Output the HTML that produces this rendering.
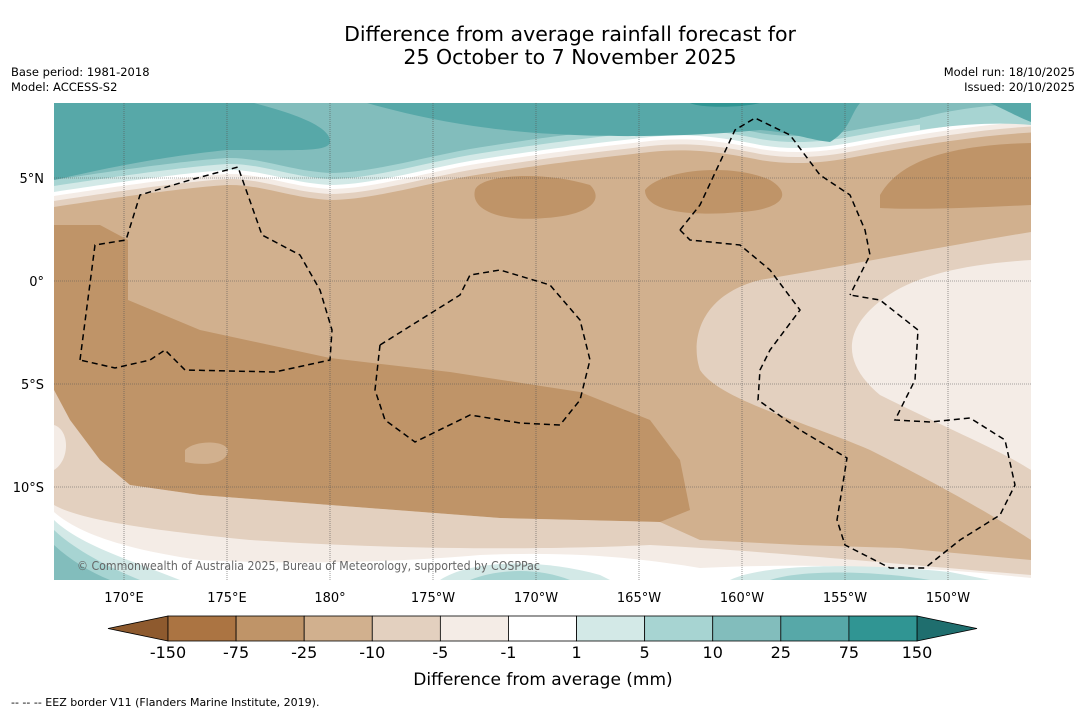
<!DOCTYPE html>
<html><head><meta charset="utf-8"><style>
html,body{margin:0;padding:0;background:#fff;width:1085px;height:713px;overflow:hidden}
svg{display:block;font-family:"DejaVu Sans","Liberation Sans",sans-serif}
</style></head><body>
<svg id="c" width="1085" height="713" viewBox="0 0 1085 713">
<text x="570" y="41" font-size="20.5" text-anchor="middle">Difference from average rainfall forecast for</text>
<text x="570" y="64" font-size="20.5" text-anchor="middle">25 October to 7 November 2025</text>
<text x="11" y="76" font-size="11.5">Base period: 1981-2018</text>
<text x="11" y="91" font-size="11.5">Model: ACCESS-S2</text>
<text x="1075" y="76" font-size="11.5" text-anchor="end">Model run: 18/10/2025</text>
<text x="1075" y="91" font-size="11.5" text-anchor="end">Issued: 20/10/2025</text>
<defs>
<clipPath id="mc"><rect x="54" y="103" width="977" height="477"/></clipPath>
<path id="nb" d="M54,207 C100,200 180,188 227,185 C260,184 290,198 330,200 C370,200 420,185 470,176 C520,168 560,162 650,152 C690,148 720,152 760,160 C790,165 820,164 860,156 C920,145 980,135 1040,132 L1040,0 L40,0Z"/>
</defs>
<g clip-path="url(#mc)">
<rect x="54" y="103" width="977" height="477" fill="#d1b08e"/>
<!-- north bands -->
<use href="#nb" fill="#e3d0bf"/>
<use href="#nb" transform="translate(0,-6)" fill="#f4ece6"/>
<use href="#nb" transform="translate(0,-11)" fill="#ffffff"/>
<use href="#nb" transform="translate(0,-15)" fill="#d3e9e7"/>
<use href="#nb" transform="translate(0,-21)" fill="#a7d4d2"/>
<use href="#nb" transform="translate(0,-27)" fill="#82bdbc"/>
<path d="M54,103 L254,103 C300,115 332,128 330,143 C325,152 300,150 227,150 C150,158 100,170 54,180Z" fill="#57a8a8"/>
<path d="M367,103 C420,118 480,130 554,134 C620,138 700,136 760,130 C790,132 810,140 830,142 C850,130 850,115 860,103Z" fill="#57a8a8"/>
<path d="M690,103 C700,108 740,108 760,103Z" fill="#309593"/>
<path d="M920,118 C950,110 990,104 1031,104 L1031,125 C1000,122 960,124 920,130Z" fill="#a7d4d2"/>
<path d="M990,103 C1010,112 1020,118 1031,122 L1031,103Z" fill="#57a8a8"/>
<!-- dark brown regions -->
<path d="M475,190 C480,175 540,170 590,185 C605,200 590,215 545,218 C500,222 470,210 475,190Z" fill="#bf9468"/>
<path d="M645,190 C660,170 730,162 770,180 C795,195 780,210 740,212 C700,216 645,214 645,190Z" fill="#bf9468"/>
<path d="M880,195 C900,160 950,145 1031,143 L1031,205 C970,208 920,210 880,208Z" fill="#bf9468"/>
<path d="M54,225 L100,225 L128,240 L128,300 L200,330 L330,358 L450,372 L580,392 L650,420 L680,460 L690,510 L660,522 L500,518 L330,505 L200,495 L130,485 L100,460 L70,420 L54,390Z" fill="#bf9468"/>
<path d="M185,450 C195,440 225,440 228,450 C228,462 210,467 185,462Z" fill="#d1b08e"/>
<!-- light east -->
<path d="M1031,232 C950,245 850,265 760,280 C700,295 690,340 700,370 C720,400 800,420 870,450 C950,490 1000,520 1031,540 Z" fill="#e3d0bf"/>
<path d="M1031,260 C950,265 900,280 870,310 C840,340 850,370 880,395 C950,430 1000,450 1031,470Z" fill="#f4ece6"/>
<!-- southern bands -->
<path d="M54,390 L70,420 L100,460 L130,485 L200,495 L330,505 L500,518 L660,522 L700,540 L800,545 L900,548 L1031,560 L1031,580 L54,580Z" fill="#e3d0bf"/>
<path d="M54,505 C80,520 150,530 250,540 C400,550 550,550 650,545 C750,550 850,560 1031,575 L1031,580 L54,580Z" fill="#f4ece6"/>
<path d="M54,425 C70,430 70,460 54,470Z" fill="#f4ece6"/>
<path d="M54,512 C80,535 130,550 200,560 C300,565 400,562 480,555 C560,552 620,555 700,568 C760,565 820,565 900,568 C960,570 1000,575 1031,578 L1031,580 L54,580Z" fill="#ffffff"/>
<path d="M54,520 C80,545 130,560 180,580 L54,580Z" fill="#d3e9e7"/>
<path d="M54,530 C75,550 110,568 140,580 L54,580Z" fill="#a7d4d2"/>
<path d="M54,545 C70,560 90,572 110,580 L54,580Z" fill="#82bdbc"/>
<path d="M440,580 C470,560 540,558 600,575 L610,580Z" fill="#d3e9e7"/>
<path d="M470,580 C500,568 540,568 570,580Z" fill="#a7d4d2"/>
<path d="M730,580 C760,565 850,562 950,572 L990,580Z" fill="#d3e9e7"/>
<path d="M770,580 C800,570 870,570 930,580Z" fill="#a7d4d2"/>
<!-- grid -->
<g id="grid" stroke="#555" stroke-width="0.6" stroke-dasharray="1,1"></g>
<!-- EEZ dashed borders -->
<g fill="none" stroke="#000" stroke-width="1.5" stroke-dasharray="6,4">
<polyline points="80,360 95,245 126,240 140,195 190,180 238,167 262,235 300,255 320,290 332,330 330,360 275,372 185,370 165,350 150,360 115,368 80,360"/>
<polyline points="380,345 460,295 470,275 500,270 550,285 580,320 590,360 580,400 560,425 520,423 470,415 415,442 385,420 375,390 380,345"/>
<polyline points="680,230 700,205 735,130 755,118 790,135 820,175 850,195 865,230 870,255 850,295"/>
<polyline points="680,230 690,240 740,245 770,270 800,310 770,350 760,370 758,400 800,430 847,458 837,520 845,545 890,568 925,568 960,540 1000,515 1015,485 1005,440 970,418 930,422 895,420 915,380 918,330 880,300 850,295"/>
</g>
<text x="77" y="570" font-size="12.5" fill="#666" transform="translate(77,0) scale(0.88,1) translate(-77,0)">© Commonwealth of Australia 2025, Bureau of Meteorology, supported by COSPPac</text>
</g>
<g id="axlabels" font-size="13"></g>
<g id="cbar"></g>
<text x="543" y="685" font-size="17" text-anchor="middle">Difference from average (mm)</text>
<text x="11" y="706" font-size="11">--  --  -- EEZ border V11 (Flanders Marine Institute, 2019).</text>
</svg>
<script>
const lonTicks=[170,175,180,-175,-170,-165,-160,-155,-150];
const lonLabels=["170°E","175°E","180°","175°W","170°W","165°W","160°W","155°W","150°W"];
const latTicks=[5,0,-5,-10];
const latLabels=["5°N","0°","5°S","10°S"];
const levels=["-150","-75","-25","-10","-5","-1","1","5","10","25","75","150"];
const colors=["#ab7442","#bf9468","#d1b08e","#e3d0bf","#f4ece6","#ffffff","#d3e9e7","#a7d4d2","#82bdbc","#57a8a8","#309593"];
const NS="http://www.w3.org/2000/svg";
const xLon=l=>{const e=l<0?360+l:l;return 124+(e-170)*20.6;};
const yLat=l=>281-l*20.6;
function mk(t,a,p){const e=document.createElementNS(NS,t);for(const k in a)e.setAttribute(k,a[k]);p.appendChild(e);return e;}
const g=document.getElementById('grid'),ax=document.getElementById('axlabels');
lonTicks.forEach((l,i)=>{const x=xLon(l);
const ln=mk('line',{x1:x,x2:x,y1:103,y2:580},g);


const t=mk('text',{x:x,y:602,'text-anchor':'middle'},ax);t.textContent=lonLabels[i];

});
latTicks.forEach((l,i)=>{const y=yLat(l);
const ln=mk('line',{x1:54,x2:1031,y1:y,y2:y},g);


const t=mk('text',{x:44,y:y+5,'text-anchor':'end'},ax);t.textContent=latLabels[i];

});
const cb=document.getElementById('cbar');const x0=168,x1=917,w=(x1-x0)/colors.length,y0=616,h=25;
const lt=mk('polygon',{points:`108,${y0+h/2} ${x0},${y0} ${x0},${y0+h}`,fill:'#8e5a2e',stroke:'#000','stroke-width':0.8},cb);


const rt=mk('polygon',{points:`977,${y0+h/2} ${x1},${y0} ${x1},${y0+h}`,fill:'#1f6e6e',stroke:'#000','stroke-width':0.8},cb);


colors.forEach((c,i)=>{const r=mk('rect',{x:x0+i*w,y:y0,width:w,height:h,fill:c,stroke:'#000','stroke-width':0.8},cb);

});
levels.forEach((s,i)=>{const t=mk('text',{x:x0+i*w,y:658,'font-size':16,'text-anchor':'middle'},cb);t.textContent=s;

});
</script>
</body></html>
